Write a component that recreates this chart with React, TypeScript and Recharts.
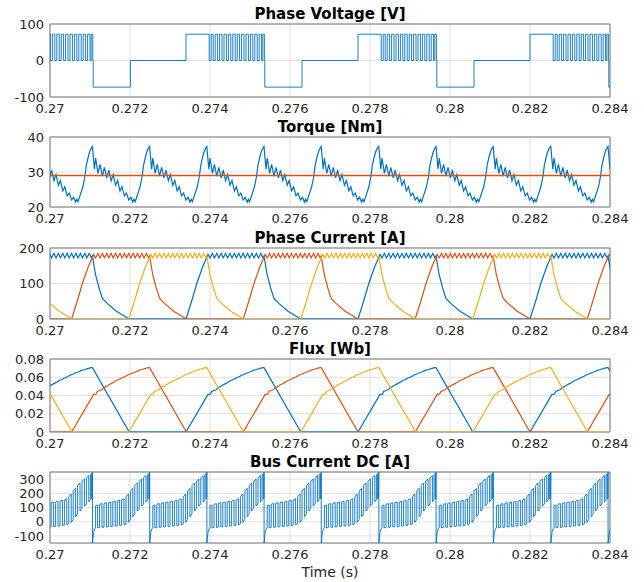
import type { ReactNode } from "react";
import { CartesianGrid, Line, LineChart, ReferenceArea, XAxis, YAxis } from "recharts";

const BLUE = "#0072BD";
const ORANGE = "#D95319";
const YELLOW = "#EDB120";
const FONT = "'DejaVu Sans', Verdana, sans-serif";

type Pt = [number, number];
const UNIT = 1e-5; // template offsets are in units of 10 µs

const timeTicks = [0.27, 0.272, 0.274, 0.276, 0.278, 0.28, 0.282, 0.284];

// instants where each phase current starts to rise (s)
const blueStarts = [0.26911, 0.2734, 0.2777, 0.282];
const orangeStarts = [0.26625, 0.27054, 0.27483, 0.27913, 0.28343];
const yellowStarts = [0.26768, 0.27197, 0.27627, 0.28057];

// commutation instants (torque peaks / bus current spikes)
const commutations = [
  0.26963, 0.27106, 0.27249, 0.27392, 0.27535, 0.27678, 0.27822, 0.27965, 0.28108, 0.28252, 0.28395,
];

// one electrical cycle of the phase voltage, offset from current rise start
const voltageCycle: Pt[] = [
  [0, 0], [0, 72], [58, 72], [58, 0],
  [63, 0], [63, 72], [68, 72], [68, 0], [73, 0], [73, 72], [79, 72], [79, 0],
  [84, 0], [84, 72], [90, 72], [90, 0], [95, 0], [95, 72], [101, 72], [101, 0],
  [106, 0], [106, 72], [112, 72], [112, 0], [117, 0], [117, 72], [123, 72], [123, 0],
  [128, 0], [128, 72], [134, 72], [134, 0], [139, 0], [139, 72], [145, 72], [145, 0],
  [150, 0], [150, 72], [156, 72], [156, 0], [161, 0], [161, 72], [167, 72], [167, 0],
  [172, 0], [172, 72], [178, 72], [178, 0], [183, 0], [183, 72], [189, 72], [189, 0],
  [192, 0], [192, 72], [196, 72], [196, 0],
  [197, 0], [197, -73], [290, -73], [290, 0], [429, 0],
];

// one torque period, offset from commutation
const torqueCycle: Pt[] = [
  [0, 37.3], [5, 30.8], [8, 34], [14, 29.6], [19, 32.2], [25, 28.8], [30, 31.3],
  [36, 28.3], [41, 30.5], [47, 27.5], [52, 29.3], [58, 26.2], [63, 27.6],
  [69, 24.6], [74, 25.8], [80, 23.2], [85, 24], [91, 22], [96, 22.8],
  [101, 21.4], [104, 22.2], [107, 21.5], [113, 23.6], [119, 25.7], [124, 28.5],
  [128, 32], [132, 34], [136, 35.7], [140, 36.8],
];
const torqueRef = [
  { t: 0.27, v: 29 },
  { t: 0.284, v: 29 },
];

// one phase-current cycle, offset from rise start
const currentCycle: Pt[] = [
  [0, 0], [14, 50], [27, 100], [41, 145], [55, 182],
  [60, 172], [66, 185], [71, 172], [77, 185], [82, 172], [88, 185], [93, 172],
  [99, 185], [104, 172], [110, 185], [115, 172], [121, 185], [126, 172],
  [132, 185], [137, 172], [143, 185], [148, 172], [154, 185], [159, 172],
  [165, 185], [170, 172], [176, 185], [181, 172], [187, 185], [192, 173], [195, 178],
  [203, 124], [212, 86], [220, 58], [232, 44], [255, 22], [287, 0], [429, 0],
];

// one flux cycle, offset from rise start
const fluxCycle: Pt[] = [
  [0, 0], [55, 0.0412], [61, 0.0415], [64, 0.0445], [70, 0.0455], [75, 0.0462],
  [80, 0.0485], [87, 0.05], [92, 0.0515], [99, 0.053], [105, 0.0545], [112, 0.0565],
  [119, 0.0575], [126, 0.0595], [133, 0.0605], [140, 0.0625], [147, 0.0635],
  [154, 0.065], [161, 0.066], [168, 0.0675], [176, 0.0685], [185, 0.0698],
  [192, 0.0705], [195, 0.0705], [287, 0], [429, 0],
];

// one bus-current period, offset from commutation
const busCycle: Pt[] = [
  [0, 350], [0.3, -150], [3, -75], [6, -48],
  [8, -45], [8, 112], [13, 118], [13, -43], [18, -41],
  [18, 122], [24, 128], [24, -40], [29, -38],
  [29, 128], [35, 134], [35, -37], [40, -35],
  [40, 133], [46, 139], [46, -34], [51, -32],
  [51, 138], [57, 145], [57, -31], [62, -29],
  [62, 145], [68, 152], [68, -27], [73, -24],
  [73, 152], [79, 162], [79, -21], [84, -15],
  [84, 175], [90, 195], [90, -5], [95, 15],
  [95, 215], [101, 235], [101, 35], [106, 55],
  [106, 255], [112, 272], [112, 75], [117, 95],
  [117, 285], [123, 300], [123, 110], [128, 125],
  [128, 310], [134, 325], [134, 140], [138, 155],
  [138, 330], [141, 338], [141, 160], [143, 168],
];

function placeCycles(cycle: Pt[], starts: number[]) {
  const out: { t: number; v: number }[] = [];
  for (const s of starts) {
    for (const [dt, v] of cycle) out.push({ t: +(s + dt * UNIT).toFixed(9), v });
  }
  return out;
}

const voltageData = placeCycles(voltageCycle, blueStarts);
const torqueData = placeCycles(torqueCycle, commutations);
const currentBlue = placeCycles(currentCycle, blueStarts);
const currentOrange = placeCycles(currentCycle, orangeStarts);
const currentYellow = placeCycles(currentCycle, yellowStarts);
const fluxBlue = placeCycles(fluxCycle, blueStarts);
const fluxOrange = placeCycles(fluxCycle, orangeStarts);
const fluxYellow = placeCycles(fluxCycle, yellowStarts);
const busData = placeCycles(busCycle, commutations);

const tickStyle = { fill: "#262626", fontSize: 13, fontFamily: FONT };

interface PanelProps {
  top: number;
  height: number;
  title: string;
  domain: [number, number];
  ticks: number[];
  children: ReactNode;
}

function Panel({ top, height, title, domain, ticks, children }: PanelProps) {
  return (
    <div style={{ position: "absolute", left: 0, top: top - 30, width: 644 }}>
      <div
        style={{
          position: "absolute",
          left: 50,
          width: 560,
          top: 11,
          textAlign: "center",
          fontFamily: FONT,
          fontWeight: "bold",
          fontSize: 15,
          lineHeight: "18px",
          color: "#000",
        }}
      >
        {title}
      </div>
      <LineChart width={644} height={height + 55} margin={{ top: 30, right: 34, bottom: 0, left: 0 }}>
        <CartesianGrid stroke="#e0e0e0" />
        <XAxis
          dataKey="t"
          type="number"
          domain={[0.27, 0.284]}
          ticks={timeTicks}
          interval={0}
          allowDataOverflow
          height={25}
          axisLine={false}
          tickLine={false}
          tickSize={6}
          tickMargin={1}
          tick={tickStyle}
        />
        <YAxis
          type="number"
          domain={domain}
          ticks={ticks}
          interval={0}
          allowDataOverflow
          width={50}
          axisLine={false}
          tickLine={false}
          tickSize={6}
          tickMargin={0}
          tick={tickStyle}
        />
        {children}
        <ReferenceArea
          x1={0.27}
          x2={0.284}
          y1={domain[0]}
          y2={domain[1]}
          fill="none"
          stroke="#7a7a7a"
          strokeWidth={1}
        />
      </LineChart>
    </div>
  );
}

function series(data: { t: number; v: number }[], color: string, key: string, width = 1.2) {
  return (
    <Line
      key={key}
      data={data}
      dataKey="v"
      type="linear"
      stroke={color}
      strokeWidth={width}
      dot={false}
      activeDot={false}
      isAnimationActive={false}
    />
  );
}

export default function App() {
  return (
    <div style={{ position: "absolute", left: 0, top: 0, width: 644, height: 582, background: "#fff" }}>
      <Panel top={24} height={73} title="Phase Voltage [V]" domain={[-100, 100]} ticks={[-100, 0, 100]}>
        {series(voltageData, BLUE, "v", 0.9)}
      </Panel>
      <Panel top={137} height={70} title="Torque [Nm]" domain={[20, 40]} ticks={[20, 30, 40]}>
        {series(torqueData, BLUE, "tq")}
        {series(torqueRef, ORANGE, "ref", 1.6)}
      </Panel>
      <Panel top={248} height={71} title="Phase Current [A]" domain={[0, 200]} ticks={[0, 100, 200]}>
        {series(currentBlue, BLUE, "ia")}
        {series(currentOrange, ORANGE, "ib")}
        {series(currentYellow, YELLOW, "ic")}
      </Panel>
      <Panel
        top={359}
        height={73}
        title="Flux [Wb]"
        domain={[0, 0.08]}
        ticks={[0, 0.02, 0.04, 0.06, 0.08]}
      >
        {series(fluxBlue, BLUE, "fa")}
        {series(fluxOrange, ORANGE, "fb")}
        {series(fluxYellow, YELLOW, "fc")}
      </Panel>
      <Panel
        top={472}
        height={71}
        title="Bus Current DC [A]"
        domain={[-150, 350]}
        ticks={[-100, 0, 100, 200, 300]}
      >
        {series(busData, BLUE, "bus", 0.9)}
      </Panel>
      <div
        style={{
          position: "absolute",
          left: 50,
          width: 560,
          top: 564,
          textAlign: "center",
          fontFamily: FONT,
          fontSize: 14,
          lineHeight: "16px",
          color: "#262626",
        }}
      >
        Time (s)
      </div>
    </div>
  );
}
